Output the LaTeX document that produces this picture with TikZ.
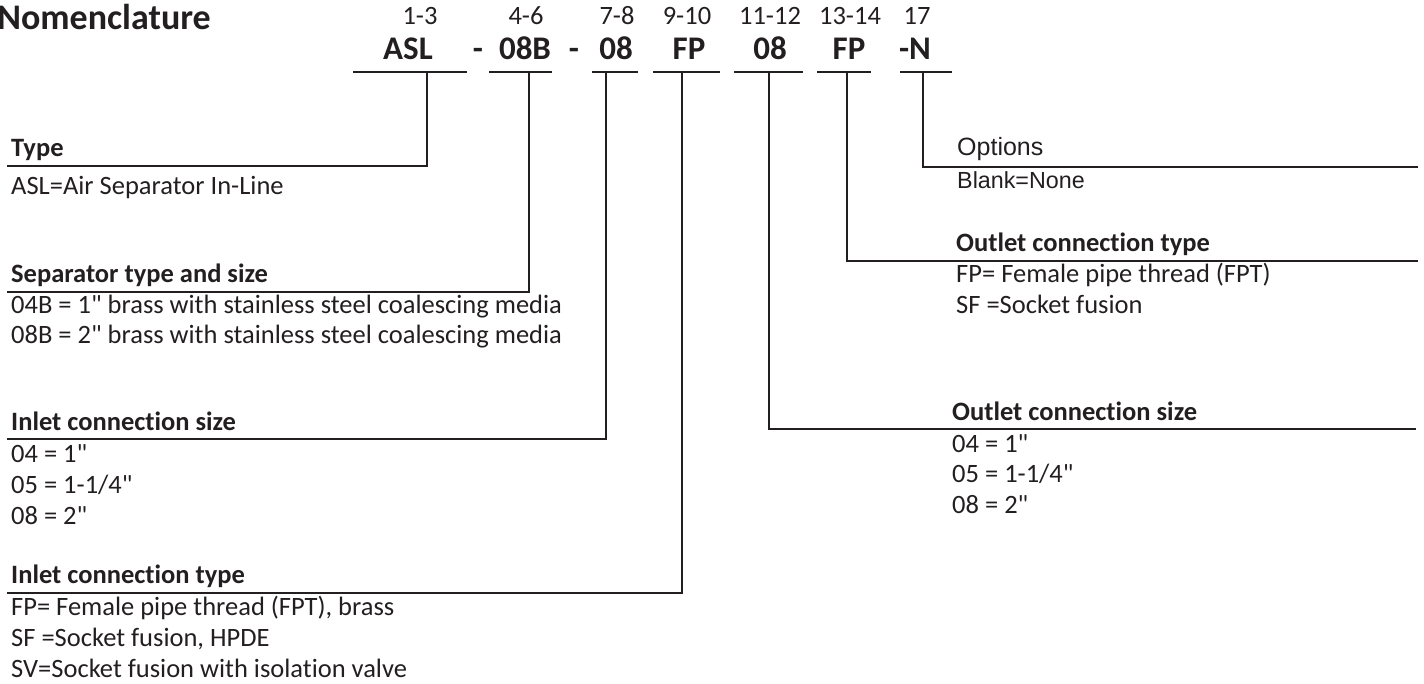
\documentclass[tikz,border=0pt]{standalone}
\usepackage{fontspec}
\setmainfont{Carlito}[Ligatures={TeXOff,CommonOff}]
\newfontfamily\arialfont{Liberation Sans}
\usetikzlibrary{positioning}
\definecolor{inkdark}{RGB}{35,31,32}
\tikzset{
  ldr/.style={inkdark, line width=2.6pt},
  ttl/.style={font=\fontsize{36}{42}\selectfont\bfseries, text=inkdark, inner sep=0pt, anchor=base east},
  posn/.style={font=\fontsize{26.5}{30}\selectfont, text=inkdark, inner sep=0pt, anchor=base},
  code/.style={font=\fontsize{33}{38}\selectfont\bfseries, text=inkdark, inner sep=0pt, anchor=base},
  hd/.style={font=\fontsize{26.5}{31}\selectfont\bfseries, text=inkdark, inner sep=0pt, anchor=base west},
  desc/.style={font=\fontsize{26.5}{31}\selectfont, text=inkdark, inner sep=0pt, anchor=base west},
  ohd/.style={font=\arialfont\fontsize{25}{30}\selectfont, text=inkdark, inner sep=0pt, anchor=base west},
  odesc/.style={font=\arialfont\fontsize{23.3}{28}\selectfont, text=inkdark, inner sep=0pt, anchor=base west},
}
\begin{document}
\begin{tikzpicture}[x=1pt, y=-1pt]
  \useasboundingbox (0,0) rectangle (1424,684);
  % title and code
  \node[ttl] (title) at (211,30) {Nomenclature};
  \node[posn] (p1) at (420,25) {1-3};
  \node[posn] (p2) at (526,25) {4-6};
  \node[posn] (p3) at (617,25) {7-8};
  \node[posn] (p4) at (687,25) {9-10};
  \node[posn] (p5) at (770,25) {11-12};
  \node[posn] (p6) at (850,25) {13-14};
  \node[posn] (p7) at (917,25) {17};
  \node[code] (kASL) at (408,60) {ASL};
  \node[code] (dsh1) at (478,60) {-};
  \node[code] (kSep) at (525,60) {08B};
  \node[code] (dsh2) at (574,60) {-};
  \node[code] (kIns) at (616,60) {08};
  \node[code] (kInt) at (689,60) {FP};
  \node[code] (kOus) at (770,60) {08};
  \node[code] (kOut) at (849,60) {FP};
  \node[code] (kOpt) at (915,60) {-N};
  % underlines
  \coordinate (uASL) at (427,72); \draw[ldr] (353,72) -- (467,72);
  \coordinate (uSep) at (529,72); \draw[ldr] (489,72) -- (552,72);
  \coordinate (uIns) at (606,72); \draw[ldr] (592,72) -- (638,72);
  \coordinate (uInt) at (682,72); \draw[ldr] (653,72) -- (720,72);
  \coordinate (uOus) at (769,72); \draw[ldr] (734,72) -- (803,72);
  \coordinate (uOut) at (847,72); \draw[ldr] (817,72) -- (871,72);
  \coordinate (uOpt) at (923,72); \draw[ldr] (900,72) -- (952,72);
  % left column
  \node[hd] (hType) at (11,157) {Type};
  \node[desc] (dType) at (11,195) {ASL=Air Separator In-Line};
  \node[hd] (hSep) at (11,283) {Separator type and size};
  \foreach \t [count=\i from 0] in {04B = 1" brass with stainless steel coalescing media, 08B = 2" brass with stainless steel coalescing media}
    \node[desc] (dSep\i) at (11,314+30*\i) {\t};
  \node[hd] (hIns) at (11,430) {Inlet connection size};
  \foreach \t [count=\i from 0] in {04 = 1", 05 = 1-1/4", 08 = 2"}
    \node[desc] (dIns\i) at (11,462+31*\i) {\t};
  \node[hd] (hInt) at (11,583) {Inlet connection type};
  \foreach \t [count=\i from 0] in {{FP= Female pipe thread (FPT), brass}, {SF =Socket fusion, HPDE}, SV=Socket fusion with isolation valve}
    \node[desc] (dInt\i) at (11,615+31*\i) {\t};
  % right column
  \node[ohd] (hOpt) at (957,156) {Options};
  \node[odesc] (dOpt) at (957,189) {Blank=None};
  \node[hd] (hOut) at (956,252) {Outlet connection type};
  \foreach \t [count=\i from 0] in {FP= Female pipe thread (FPT), SF =Socket fusion}
    \node[desc] (dOut\i) at (956,283+31*\i) {\t};
  \node[hd] (hOus) at (952,420) {Outlet connection size};
  \foreach \t [count=\i from 0] in {04 = 1", 05 = 1-1/4", 08 = 2"}
    \node[desc] (dOus\i) at (952,452+30.5*\i) {\t};
  % leader ends
  \coordinate (eType) at (7,166);
  \coordinate (eSep) at (7,292);
  \coordinate (eIns) at (7,439);
  \coordinate (eInt) at (7,593);
  \coordinate (eOpt) at (1418,167);
  \coordinate (eOut) at (1418,261);
  \coordinate (eOus) at (1416,429);
  \draw[ldr] (uASL) |- (eType);
  \draw[ldr] (uSep) |- (eSep);
  \draw[ldr] (uIns) |- (eIns);
  \draw[ldr] (uInt) |- (eInt);
  \draw[ldr] (uOpt) |- (eOpt);
  \draw[ldr] (uOut) |- (eOut);
  \draw[ldr] (uOus) |- (eOus);
\end{tikzpicture}
\end{document}
